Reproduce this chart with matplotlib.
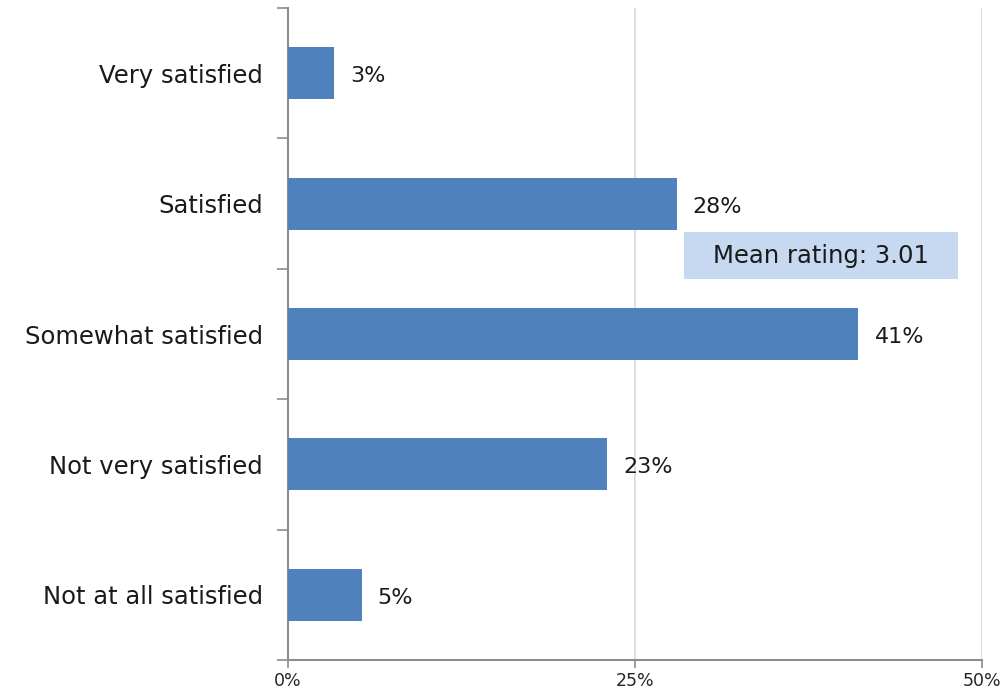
import matplotlib
matplotlib.use("Agg")
import matplotlib.pyplot as plt
from matplotlib.patches import Rectangle
from matplotlib.transforms import offset_copy

categories = ["Very satisfied", "Satisfied", "Somewhat satisfied", "Not very satisfied", "Not at all satisfied"]
values = [3.3, 28.0, 41.1, 23.0, 5.3]
labels = ["3%", "28%", "41%", "23%", "5%"]
xticks = [0, 25, 50]
xticklabels = ["0%", "25%", "50%"]
mean_text = "Mean rating: 3.01"

plt.rcParams['font.family'] = ['DejaVu Sans']

fig = plt.figure(figsize=(10.06, 6.98), dpi=100)
ax = fig.add_axes([288/1006, 38/698, (982-288)/1006, (660-8)/698])

n = len(categories)
ypos = [n - 1 - i for i in range(n)]
bar_color = "#4F81BD"
ax.barh(ypos, values, height=0.4, color=bar_color, zorder=3)

ax.set_xlim(0, 50)
ax.set_ylim(-0.5, n - 0.5)

# gridlines
for t in xticks[1:]:
    ax.axvline(t, color="#D9D9D9", lw=1.2, zorder=1)

for s in ["top", "right"]:
    ax.spines[s].set_visible(False)
for s in ["left", "bottom"]:
    ax.spines[s].set_color("#8C8C8C")
    ax.spines[s].set_linewidth(1.5)

ax.set_xticks(xticks)
ax.set_xticklabels(xticklabels, fontsize=12.5, color="#262626")
ax.tick_params(axis="x", direction="out", length=6, width=1.2, color="#8C8C8C", pad=3)

# y: category labels at centers, ticks at boundaries
ax.set_yticks(ypos)
ax.set_yticklabels(categories, fontsize=17.5, color="#1a1a1a")
ax.tick_params(axis="y", length=0, pad=18)
ax.set_yticks([y + 0.5 for y in range(-1, n)], minor=True)
ax.tick_params(axis="y", which="minor", direction="out", length=8, width=1.2, color="#8C8C8C")

for y, v, lab in zip(ypos, values, labels):
    tr = offset_copy(ax.transData, fig=fig, x=16, y=-3, units="dots")
    ax.text(v, y, lab, transform=tr, va="center", ha="left", fontsize=16, color="#1a1a1a")

# mean rating box
bx0, bx1 = 28.5, 48.3
by_c, bh = 2.6, 0.36
ax.add_patch(Rectangle((bx0, by_c - bh/2), bx1 - bx0, bh, facecolor="#C6D9F1", edgecolor="none", zorder=4))
ax.text((bx0 + bx1)/2, by_c, mean_text, ha="center", va="center", fontsize=17.5, color="#1a1a1a", zorder=5)

fig.savefig("out.png", dpi=100)
